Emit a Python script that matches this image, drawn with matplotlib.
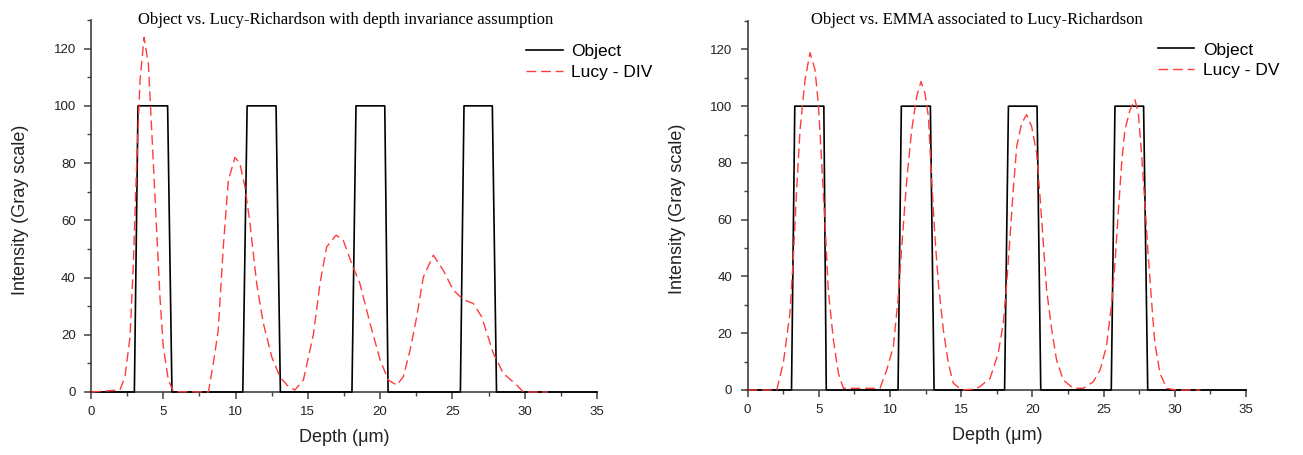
import numpy as np
import matplotlib
matplotlib.use('Agg')
import matplotlib.pyplot as plt
from matplotlib.ticker import MultipleLocator

# object profile (same for both panels)
obj_x = [0, 3.0, 3.25, 5.3, 5.6, 10.5, 10.8, 12.8, 13.1, 18.05, 18.33, 20.32, 20.55,
         25.55, 25.8, 27.76, 28.05, 35]
obj_y = [0, 0, 100, 100, 0, 0, 100, 100, 0, 0, 100, 100, 0, 0, 100, 100, 0, 0]

obj2_x = [0, 3.09, 3.32, 5.36, 5.53, 10.57, 10.8, 12.84, 13.1, 18.05, 18.32, 20.33, 20.59,
          25.54, 25.8, 27.81, 28.1, 35]
obj2_y = obj_y

# Lucy-Richardson, depth invariance
div_x = [0, 2.0, 2.35, 2.7, 2.93, 3.16, 3.39, 3.67, 3.97, 4.2, 4.54, 4.77, 5.0, 5.35, 5.7,
         8.12, 8.46, 8.8, 9.15, 9.5, 9.96, 10.3, 10.65, 11.0, 11.46, 11.92, 12.5, 13.07,
         13.65, 14.1, 14.69, 15.38, 15.84, 16.3, 16.95, 17.45, 18.03, 18.6, 19.3, 20.0,
         20.56, 21.15, 21.6, 22.07, 22.53, 22.99, 23.68, 24.37, 25.06, 25.75, 26.45, 27.02,
         27.83, 28.52, 29.45, 29.9, 31.6]
div_y = [0, 0.7, 5.3, 19.3, 44.9, 79.8, 108.8, 123.9, 114.6, 91.4, 56.5, 33.2, 15.8, 4.2, 0.1,
         0, 10, 21.6, 50.7, 74, 82, 79.8, 71.6, 58.8, 37.9, 24, 12.3, 5.3,
         1.9, 0.7, 4.2, 20, 38, 50.7, 54.8, 53, 44.9, 37.9, 24, 11.2,
         4.2, 2.4, 5.3, 14.6, 26.3, 40.2, 47.8, 42.5, 35.6, 32.3, 30.9, 26.3,
         13.5, 6.5, 2.4, 0, 0]

# EMMA + Lucy-Richardson
dv_x = [0, 2.05, 2.51, 2.98, 3.22, 3.45, 3.69, 4.04, 4.39, 4.74, 4.97, 5.21, 5.44, 5.67,
        6.03, 6.38, 6.73, 9.3, 9.77, 10.24, 10.59, 10.83, 11.18, 11.53, 11.88, 12.18, 12.46,
        12.7, 12.93, 13.16, 13.4, 13.75, 14.1, 14.45, 15.04, 15.9, 16.32, 17.03, 17.6,
        17.96, 18.2, 18.43, 18.66, 18.9, 19.25, 19.6, 19.95, 20.3, 20.54, 20.77, 21.0,
        21.36, 21.7, 22.17, 22.87, 23.58, 24.28, 24.75, 25.2, 25.57, 25.8, 26.03, 26.27,
        26.5, 26.86, 27.2, 27.44, 27.68, 27.9, 28.14, 28.38, 28.6, 28.96, 29.43, 30.1, 31.8]
dv_y = [0, 0, 9.4, 27, 47, 70.5, 91.7, 109.3, 118.9, 112.8, 101, 80, 58.8, 35.3,
        17.6, 5.9, 0.6, 0.6, 7, 15.3, 32.9, 50.5, 74, 91.7, 103.4, 108.7, 104.6,
        96.4, 74, 54, 37.6, 21.2, 9.4, 2.4, 0, 0.3, 1.2, 4.1, 12.9,
        23.5, 37.6, 54, 70.5, 85.8, 94, 97, 92.8, 83.5, 68, 51.7, 35.3,
        21.2, 10.6, 3.5, 0.6, 0.6, 2.9, 7, 15.3, 30.6, 44.7, 62.3, 80,
        91.7, 98.7, 102.3, 97.6, 82.3, 65.8, 47, 30.6, 16.5, 5.9, 0.6, 0, 0]

titles = ["Object vs. Lucy-Richardson with depth invariance assumption",
          "Object vs. EMMA associated to Lucy-Richardson"]
labels2 = ["Lucy - DIV", "Lucy - DV"]

plt.rcParams['font.family'] = ['Liberation Sans', 'DejaVu Sans']

fig = plt.figure(figsize=(13.03, 4.55), dpi=100)
ax1 = fig.add_axes([91/1303, 1-392/455, 506/1303, 372/455])
ax2 = fig.add_axes([747.5/1303, 1-390/455, 498.5/1303, 369/455])

red = '#ff3c3c'
spine_c = '#404040'

panels = [(ax1, obj_x, obj_y, div_x, div_y, 0.504, 0.989, (0.86, 0.935)),
          (ax2, obj2_x, obj2_y, dv_x, dv_y, 0.461, 0.992, (0.823, 0.942))]

for i, (ax, ox, oy, lx, ly, tx, ty, lpos) in enumerate(panels):
    ax.plot(ox, oy, color='black', lw=1.2, label='Object', zorder=3, clip_on=False)
    ax.plot(lx, ly, color=red, lw=1.0, dashes=(7, 3.5), label=labels2[i], zorder=4,
            clip_on=False)
    ax.set_xlim(0, 35)
    ax.set_ylim(0, 130)
    for s in ['top', 'right']:
        ax.spines[s].set_visible(False)
    for s in ['left', 'bottom']:
        ax.spines[s].set_color(spine_c)
        ax.spines[s].set_linewidth(1.2)
    ax.xaxis.set_major_locator(MultipleLocator(5))
    ax.xaxis.set_minor_locator(MultipleLocator(2.5))
    ax.yaxis.set_major_locator(MultipleLocator(20))
    ax.yaxis.set_minor_locator(MultipleLocator(10))
    ax.tick_params(which='major', length=5, width=1.1, color=spine_c, labelsize=9.5,
                   labelcolor='#222222')
    ax.tick_params(axis='x', which='major', pad=5)
    ax.tick_params(axis='y', which='major', pad=6)
    ax.tick_params(which='minor', length=3, width=1.0, color=spine_c)
    ax.set_ylabel('Intensity (Gray scale)', fontsize=13, color='#222222')
    ax.set_xlabel('Depth (\u03bcm)', fontsize=13, color='#222222')
    ax.yaxis.set_label_coords(-0.123, 0.49)
    ax.xaxis.set_label_coords(0.5, -0.1)
    ax.text(tx, ty, titles[i], transform=ax.transAxes, ha='center', va='baseline',
            fontsize=12, family='Liberation Serif')
    ax.legend(loc='upper left', bbox_to_anchor=lpos, frameon=False, fontsize=12.5,
              handlelength=2.1, handletextpad=0.5, labelspacing=0.3,
              borderpad=0, borderaxespad=0)

fig.savefig('out.png', dpi=100)
